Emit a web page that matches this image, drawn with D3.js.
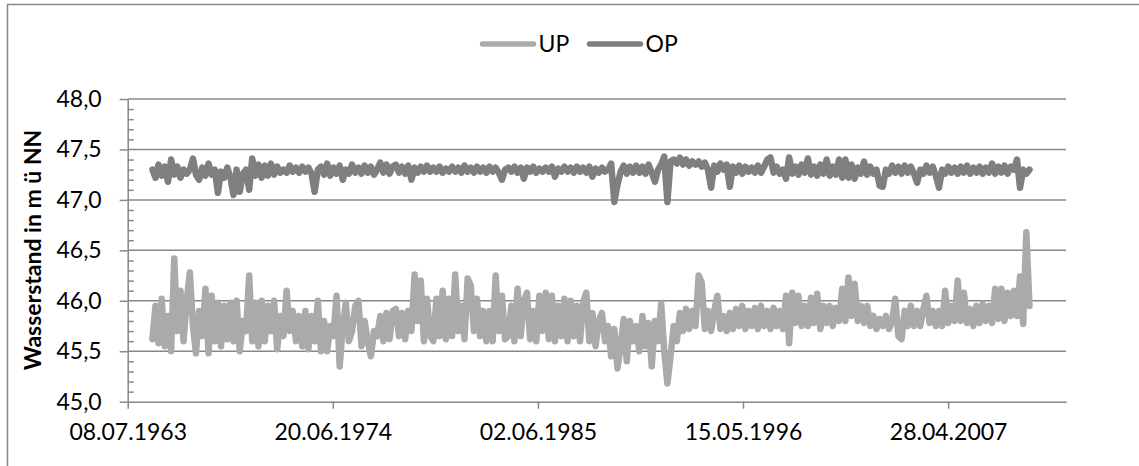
<!DOCTYPE html>
<meta charset="utf-8">
<head>
  <title>Wasserstand UP / OP</title>
</head>

<style>
body {
  margin: 0;
  background: #fff;
  font-family: Lato, "Open Sans", sans-serif;
}
text {
  fill: #000;
}
</style>

<body>
  <div id="content">
    <svg width="1139" height="466"></svg>
  </div>

  <script src="https://cdnjs.cloudflare.com/ajax/libs/d3/7.8.5/d3.min.js"></script>

  <script>
// series start (hydrological year 1965), one value every 2 months
var startDate = '01.11.1964';
var stepMonths = 2;

var seriesNames = ['UP', 'OP'];
var tickLabels = ['08.07.1963', '20.06.1974', '02.06.1985', '15.05.1996', '28.04.2007'];
var axisEnd = '13.08.2013';
var yTicks = [45.0, 45.5, 46.0, 46.5, 47.0, 47.5, 48.0];

// UP, six values per year
var up = [
  45.62, 45.95, 45.58, 46.02, 45.55, 45.85, // 1965
  45.50, 46.42, 45.70, 46.10, 45.60, 46.00, // 1966
  46.28, 45.75, 45.48, 45.90, 45.65, 46.12, // 1967
  45.48, 46.05, 45.60, 45.98, 45.55, 45.95, // 1968
  45.62, 45.98, 45.60, 46.00, 45.50, 45.80, // 1969
  45.70, 46.25, 45.60, 45.98, 45.55, 46.00, // 1970
  45.60, 45.95, 45.70, 46.00, 45.52, 45.85, // 1971
  45.65, 46.10, 45.70, 45.90, 45.60, 45.85, // 1972
  45.55, 45.90, 45.52, 45.85, 45.60, 46.00, // 1973
  45.50, 45.80, 45.50, 45.75, 45.65, 46.05, // 1974
  45.35, 45.75, 45.98, 45.60, 45.70, 45.95, // 1975
  46.00, 45.55, 45.80, 45.60, 45.45, 45.70, // 1976
  45.65, 45.85, 45.60, 45.88, 45.62, 45.90, // 1977
  45.92, 45.65, 45.88, 45.62, 45.90, 45.70, // 1978
  46.26, 45.80, 46.20, 45.60, 46.02, 45.65, // 1979
  45.60, 46.02, 45.65, 46.10, 45.62, 46.02, // 1980
  45.65, 46.26, 45.70, 45.95, 45.62, 46.22, // 1981
  46.15, 45.70, 46.02, 45.65, 45.90, 45.60, // 1982
  45.90, 45.60, 46.25, 45.70, 46.05, 45.62, // 1983
  45.65, 45.95, 45.60, 46.12, 45.65, 46.00, // 1984
  46.08, 45.62, 45.90, 45.60, 46.05, 45.70, // 1985
  46.08, 45.62, 46.05, 45.60, 45.95, 45.65, // 1986
  46.02, 45.60, 46.00, 45.65, 45.95, 45.60, // 1987
  45.98, 46.08, 45.60, 45.88, 45.55, 45.80, // 1988
  45.88, 45.60, 45.75, 45.45, 45.72, 45.33, // 1989
  45.55, 45.82, 45.40, 45.80, 45.60, 45.75, // 1990
  45.50, 45.85, 45.55, 45.78, 45.35, 45.80, // 1991
  45.60, 45.97, 45.50, 45.18, 45.45, 45.75, // 1992
  45.60, 45.88, 45.70, 45.92, 45.72, 45.90, // 1993
  45.75, 46.25, 46.18, 45.72, 45.90, 45.70, // 1994
  45.90, 46.05, 45.72, 45.85, 45.70, 45.88, // 1995
  45.72, 45.92, 45.75, 45.95, 45.72, 45.90, // 1996
  45.75, 45.93, 45.72, 45.95, 45.75, 45.90, // 1997
  45.72, 45.93, 45.75, 45.90, 45.72, 46.05, // 1998
  45.58, 46.08, 45.78, 46.05, 45.75, 45.95, // 1999
  45.75, 46.03, 45.78, 46.07, 45.72, 45.95, // 2000
  45.78, 45.95, 45.75, 45.93, 45.80, 46.12, // 2001
  45.80, 46.23, 45.85, 46.17, 45.80, 45.95, // 2002
  45.78, 45.95, 45.75, 45.85, 45.72, 45.82, // 2003
  45.75, 45.85, 45.72, 45.80, 46.02, 45.65, // 2004
  45.62, 45.90, 45.75, 45.95, 45.75, 45.90, // 2005
  45.75, 45.92, 46.05, 45.78, 45.90, 45.75, // 2006
  45.90, 45.75, 46.10, 45.78, 45.95, 45.80, // 2007
  46.20, 45.80, 46.08, 45.78, 45.92, 45.75, // 2008
  45.95, 45.78, 45.97, 45.80, 45.95, 45.78, // 2009
  46.12, 45.82, 46.12, 45.80, 46.08, 45.85, // 2010
  46.10, 45.85, 46.24, 45.77, 46.68, 45.95  // 2011
];

// OP, six values per year
var op = [
  47.30, 47.22, 47.35, 47.24, 47.33, 47.18, // 1965
  47.40, 47.25, 47.33, 47.22, 47.30, 47.26, // 1966
  47.30, 47.41, 47.25, 47.20, 47.32, 47.24, // 1967
  47.36, 47.25, 47.30, 47.07, 47.28, 47.22, // 1968
  47.32, 47.22, 47.05, 47.30, 47.08, 47.26, // 1969
  47.30, 47.10, 47.41, 47.24, 47.35, 47.22, // 1970
  47.34, 47.24, 47.36, 47.25, 47.33, 47.27, // 1971
  47.30, 47.27, 47.34, 47.28, 47.32, 47.27, // 1972
  47.33, 47.28, 47.32, 47.26, 47.08, 47.30, // 1973
  47.33, 47.25, 47.36, 47.24, 47.32, 47.26, // 1974
  47.34, 47.20, 47.30, 47.26, 47.35, 47.27, // 1975
  47.32, 47.26, 47.34, 47.27, 47.33, 47.25, // 1976
  47.30, 47.37, 47.27, 47.35, 47.26, 47.33, // 1977
  47.35, 47.27, 47.33, 47.26, 47.34, 47.20, // 1978
  47.32, 47.27, 47.33, 47.28, 47.34, 47.28, // 1979
  47.32, 47.28, 47.33, 47.27, 47.31, 47.28, // 1980
  47.33, 47.28, 47.32, 47.27, 47.34, 47.28, // 1981
  47.32, 47.27, 47.33, 47.28, 47.32, 47.27, // 1982
  47.33, 47.28, 47.32, 47.27, 47.20, 47.30, // 1983
  47.32, 47.28, 47.33, 47.27, 47.32, 47.21, // 1984
  47.32, 47.28, 47.33, 47.27, 47.31, 47.28, // 1985
  47.32, 47.28, 47.33, 47.23, 47.31, 47.28, // 1986
  47.33, 47.28, 47.32, 47.27, 47.33, 47.28, // 1987
  47.32, 47.27, 47.33, 47.23, 47.31, 47.27, // 1988
  47.32, 47.28, 47.30, 47.36, 46.98, 47.15, // 1989
  47.28, 47.34, 47.26, 47.33, 47.27, 47.34, // 1990
  47.27, 47.33, 47.26, 47.35, 47.27, 47.18, // 1991
  47.30, 47.35, 47.43, 46.98, 47.38, 47.40, // 1992
  47.36, 47.42, 47.35, 47.40, 47.34, 47.38, // 1993
  47.35, 47.38, 47.33, 47.37, 47.30, 47.12, // 1994
  47.34, 47.28, 47.36, 47.30, 47.35, 47.13, // 1995
  47.33, 47.27, 47.34, 47.26, 47.33, 47.28, // 1996
  47.32, 47.27, 47.34, 47.27, 47.33, 47.40, // 1997
  47.42, 47.27, 47.33, 47.26, 47.30, 47.21, // 1998
  47.42, 47.26, 47.33, 47.25, 47.35, 47.27, // 1999
  47.41, 47.25, 47.33, 47.24, 47.35, 47.26, // 2000
  47.40, 47.24, 47.33, 47.25, 47.40, 47.22, // 2001
  47.40, 47.22, 47.35, 47.21, 47.32, 47.26, // 2002
  47.38, 47.25, 47.33, 47.26, 47.30, 47.14, // 2003
  47.13, 47.30, 47.26, 47.34, 47.27, 47.33, // 2004
  47.26, 47.34, 47.27, 47.33, 47.26, 47.17, // 2005
  47.30, 47.26, 47.34, 47.27, 47.33, 47.24, // 2006
  47.12, 47.30, 47.26, 47.33, 47.27, 47.32, // 2007
  47.26, 47.33, 47.27, 47.34, 47.26, 47.32, // 2008
  47.27, 47.33, 47.26, 47.32, 47.27, 47.36, // 2009
  47.26, 47.33, 47.27, 47.34, 47.26, 47.33, // 2010
  47.30, 47.40, 47.12, 47.30, 47.26, 47.30  // 2011
];

var colors = ['#aaaaaa', '#7f7f7f'];
var gridColor = '#888888';

var parseDate = d3.utcParse('%d.%m.%Y');
var formatDate = d3.utcFormat('%d.%m.%Y');
var de = d3.formatLocale({decimal: ',', thousands: '.', grouping: [3], currency: ['', ' €']});
var formatY = de.format('.1f');

var svg = d3.select('#content svg');

var margin = {left: 127.7, right: 1066, top: 99, bottom: 401.7};

var x = d3.scaleUtc()
  .domain([parseDate(tickLabels[0]), parseDate(axisEnd)])
  .range([margin.left, margin.right]);

var y = d3.scaleLinear()
  .domain([45, 48])
  .range([margin.bottom, margin.top]);

var t0 = parseDate(startDate);
function toPoints(values) {
  return values.map(function(v, i) {
    return {date: d3.utcMonth.offset(t0, i * stepMonths), value: v};
  });
}

// outer frame (cut at right and bottom like the picture)
svg.append('rect')
  .attr('x', 7.5).attr('y', 4.5)
  .attr('width', 1300).attr('height', 600)
  .attr('fill', 'none')
  .attr('stroke', gridColor)
  .attr('stroke-width', 1.5);

// gridlines
svg.append('g')
  .selectAll('line')
  .data(yTicks.slice(1))
  .join('line')
  .attr('x1', margin.left).attr('x2', margin.right)
  .attr('y1', d => y(d)).attr('y2', d => y(d))
  .attr('stroke', gridColor)
  .attr('stroke-width', 1.5);

// y axis, major ticks outward
var yAxis = svg.append('g')
  .attr('transform', 'translate(' + margin.left + ',0)')
  .call(d3.axisLeft(y).tickValues(yTicks).tickFormat(formatY).tickSize(8).tickSizeOuter(0).tickPadding(18));

// minor ticks inside
svg.append('g')
  .attr('transform', 'translate(' + margin.left + ',0)')
  .call(d3.axisRight(y).tickValues(d3.range(451, 480).map(d => d / 10).filter(d => Math.round(d * 10) % 5 != 0)).tickSize(6).tickFormat(''))
  .call(g => g.select('.domain').remove());

// x axis
var xAxis = svg.append('g')
  .attr('transform', 'translate(0,' + margin.bottom + ')')
  .call(d3.axisBottom(x).tickValues(tickLabels.map(parseDate)).tickFormat(formatDate).tickSize(7).tickSizeOuter(0).tickPadding(18));

svg.selectAll('.domain, .tick line')
  .attr('stroke', gridColor)
  .attr('stroke-width', 1.5);

svg.selectAll('.tick text')
  .attr('font-family', 'Lato, "Open Sans", sans-serif')
  .attr('font-size', 23)
  .attr('fill', '#000');

xAxis.selectAll('.tick text').attr('dy', '0.71em').attr('y', 22);

// series
var line = d3.line()
  .x(d => x(d.date))
  .y(d => y(d.value));

[up, op].forEach(function(values, i) {
  svg.append('path')
    .datum(toPoints(values))
    .attr('d', line)
    .attr('fill', 'none')
    .attr('stroke', colors[i])
    .attr('stroke-width', 6.5)
    .attr('stroke-linejoin', 'round')
    .attr('stroke-linecap', 'round');
});

// axis title
svg.append('text')
  .attr('transform', 'translate(41,250) rotate(-90)')
  .attr('text-anchor', 'middle')
  .attr('font-size', 23)
  .attr('font-weight', 'bold')
  .text('Wasserstand in m ü NN');

// legend
var legendX = [482.5, 589.5];
var legend = svg.append('g');
seriesNames.forEach(function(name, i) {
  legend.append('line')
    .attr('x1', legendX[i]).attr('x2', legendX[i] + 51)
    .attr('y1', 44).attr('y2', 44)
    .attr('stroke', colors[i])
    .attr('stroke-width', 5.5)
    .attr('stroke-linecap', 'round');
  legend.append('text')
    .attr('x', legendX[i] + 56)
    .attr('y', 44)
    .attr('dy', '0.36em')
    .attr('font-size', 23)
    .text(name);
});
  </script>
</body>
</html>
